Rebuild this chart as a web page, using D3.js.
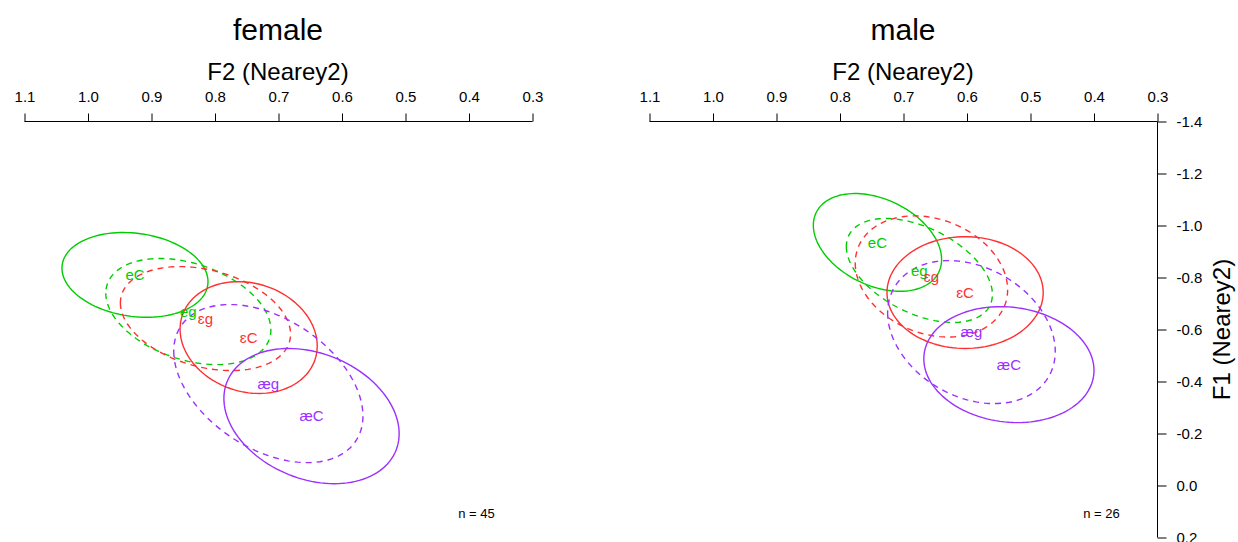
<!DOCTYPE html>
<html><head><meta charset="utf-8">
<script src="https://cdn.jsdelivr.net/npm/d3@7"></script>
<style>body{margin:0;background:#fff}svg{display:block;font-family:"Liberation Sans",Arial,sans-serif}</style>
</head><body><svg id="c" width="1238" height="542"></svg>
<script>
// ---- data ----
const panels = ["female", "male"];
const counts = [45, 26];
const xTicks = [1.1, 1.0, 0.9, 0.8, 0.7, 0.6, 0.5, 0.4, 0.3];
const yTicks = [-1.4, -1.2, -1.0, -0.8, -0.6, -0.4, -0.2, 0.0, 0.2];
const vowels = ["eC", "eg", "ɛg", "ɛC", "æg", "æC"];
const vowelColor = ["green", "green", "red", "red", "purple", "purple"];
const vowelDashed = [false, true, true, false, true, false];
// ellipse centres (F2, F1), sd F2, sd F1, correlation  — per panel
const femaleF2 = [0.926, 0.842, 0.815, 0.747, 0.716, 0.648];
const femaleF1 = [-0.810, -0.669, -0.642, -0.569, -0.392, -0.267];
const femaleSdF2 = [0.115, 0.130, 0.134, 0.108, 0.149, 0.138];
const femaleSdF1 = [0.163, 0.204, 0.200, 0.215, 0.304, 0.260];
const femaleR = [-0.16, -0.345, -0.30, -0.15, -0.41, -0.26];
const maleF2 = [0.741, 0.675, 0.656, 0.603, 0.593, 0.534];
const maleF1 = [-0.935, -0.827, -0.804, -0.742, -0.590, -0.465];
const maleSdF2 = [0.101, 0.115, 0.120, 0.123, 0.132, 0.134];
const maleSdF1 = [0.188, 0.200, 0.233, 0.215, 0.275, 0.223];
const maleR = [-0.35, -0.46, -0.22, 0.0, -0.27, -0.10];

const colors = {green: "#00CD00", red: "#FF3030", purple: "#9B30FF"};
const panelData = [
  {F2: femaleF2, F1: femaleF1, sx: femaleSdF2, sy: femaleSdF1, r: femaleR},
  {F2: maleF2, F1: maleF1, sx: maleSdF2, sy: maleSdF1, r: maleR}
];

const svg = d3.select("#c");
const y = d3.scaleLinear().domain([-1.4, 0.2]).range([121.5, 537.5]);
const xRanges = [[24.5, 532.5], [649.5, 1157.5]];

panels.forEach((name, pi) => {
  const x = d3.scaleLinear().domain([1.1, 0.3]).range(xRanges[pi]);
  const g = svg.append("g");
  const cx = (xRanges[pi][0] + xRanges[pi][1]) / 2 - 0.5;
  g.append("text").attr("x", cx).attr("y", 40).attr("text-anchor", "middle")
    .attr("font-size", 30).text(name);
  g.append("text").attr("x", cx).attr("y", 80).attr("text-anchor", "middle")
    .attr("font-size", 24).text("F2 (Nearey2)");
  const ax = g.append("g").attr("transform", "translate(0,121.5)")
    .call(d3.axisTop(x).tickValues(xTicks).tickFormat(d3.format(".1f")).tickSize(8).tickPadding(12));
  ax.select(".domain").attr("d", `M${xRanges[pi][0]},0H${xRanges[pi][1]}`).attr("stroke", "#000");
  ax.selectAll("line").attr("stroke", "#000");
  ax.selectAll("text").attr("font-size", 15).attr("font-family", "Liberation Sans, Arial, sans-serif").attr("fill", "#000");

  const d = panelData[pi];
  const ts = d3.range(0, 361, 3).map(a => a * Math.PI / 180);
  const line = d3.line().x(p => x(p[0])).y(p => y(p[1])).curve(d3.curveLinearClosed);
  vowels.forEach((v, i) => {
    const s = Math.sqrt(1 - d.r[i] * d.r[i]);
    const pts = ts.slice(0, -1).map(t => [
      d.F2[i] + d.sx[i] * Math.cos(t),
      d.F1[i] + d.sy[i] * (d.r[i] * Math.cos(t) + s * Math.sin(t))
    ]);
    g.append("path").attr("d", line(pts)).attr("fill", "none")
      .attr("stroke", colors[vowelColor[i]]).attr("stroke-width", 1.4)
      .attr("stroke-dasharray", vowelDashed[i] ? "6,5" : null);
  });
  vowels.forEach((v, i) => {
    g.append("text").attr("x", x(d.F2[i])).attr("y", y(d.F1[i]))
      .attr("dy", "0.35em").attr("text-anchor", "middle").attr("font-size", 15)
      .attr("fill", colors[vowelColor[i]]).text(v);
  });
  g.append("text").attr("x", x(0.3) - 56).attr("y", 518).attr("text-anchor", "middle")
    .attr("font-size", 13).text("n = " + counts[pi]);

  if (pi === 1) {
    const ay = g.append("g").attr("transform", `translate(${xRanges[1][1]},0)`)
      .call(d3.axisRight(y).tickValues(yTicks).tickFormat(d3.format(".1f")).tickSize(9).tickPadding(10));
    ay.select(".domain").attr("d", `M0,${y(-1.4)}V${y(0.2)}`).attr("stroke", "#000");
    ay.selectAll("line").attr("stroke", "#000");
    ay.selectAll("text").attr("font-size", 15).attr("font-family", "Liberation Sans, Arial, sans-serif").attr("fill", "#000")
      .text(t => d3.format(".1f")(t).replace("−", "-"));
    g.append("text").attr("transform", `translate(1230,${y(-0.6)}) rotate(-90)`)
      .attr("text-anchor", "middle").attr("font-size", 24).text("F1 (Nearey2)");
  }
});
</script></body></html>
